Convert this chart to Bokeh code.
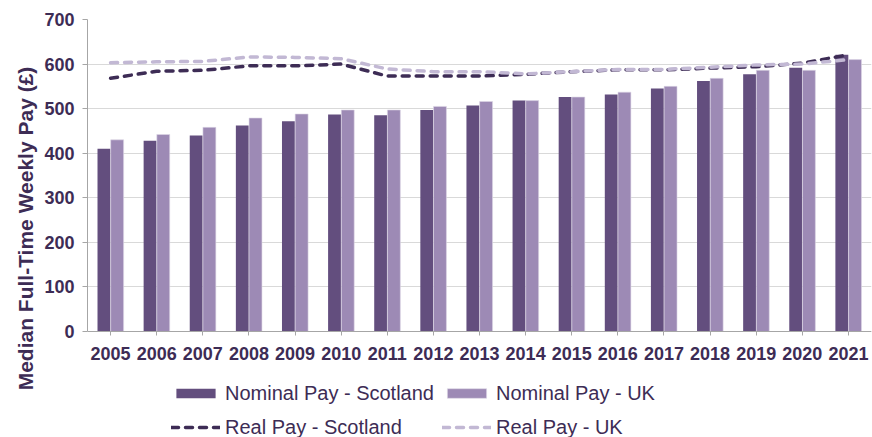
from bokeh.plotting import figure
from bokeh.models import Range1d, FixedTicker, Legend, LegendItem, Title
from bokeh.embed import file_html
from bokeh.resources import INLINE

years = [2005, 2006, 2007, 2008, 2009, 2010, 2011, 2012, 2013, 2014, 2015, 2016, 2017, 2018, 2019, 2020, 2021]
year_labels = [str(y) for y in years]
nominal_scotland = [410, 428, 440, 462, 472, 487, 485, 497, 507, 518, 526, 532, 545, 562, 577, 592, 621]
nominal_uk = [430, 442, 458, 479, 488, 497, 497, 505, 516, 518, 526, 537, 550, 568, 586, 586, 610]
real_scotland = [568, 584, 586, 596, 596, 600, 573, 573, 573, 577, 583, 587, 587, 591, 594, 602, 621]
real_uk = [603, 605, 606, 616, 615, 612, 589, 583, 583, 578, 583, 588, 588, 593, 598, 600, 610]
y_ticks = [0, 100, 200, 300, 400, 500, 600, 700]

TEXT = "#3d2c55"
C_NOM_SCO = "#634e7e"
C_NOM_UK = "#9d8ab5"
C_REAL_SCO = "#3d2c55"
C_REAL_UK = "#c2b8d4"
FONT = "Liberation Sans"

# frame spans the full lower area so the legend (inside the frame) is not clipped;
# value 0 sits at the x-axis, the area below it holds the year labels and legend
p = figure(width=872, height=437, output_backend="svg", toolbar_location=None,
           x_range=Range1d(2004.5, 2021.5), y_range=Range1d(-237.8, 700),
           min_border_left=87, min_border_right=1, min_border_top=19, min_border_bottom=0)
p.outline_line_color = None
p.background_fill_color = "white"

bw = 0.28
off = 0.143
xs_sco = [y - off for y in years]
xs_uk = [y + off for y in years]
r_ns = p.vbar(x=xs_sco, top=nominal_scotland, bottom=0, width=bw, fill_color=C_NOM_SCO, line_color=None)
r_nu = p.vbar(x=xs_uk, top=nominal_uk, bottom=0, width=bw, fill_color=C_NOM_UK, line_color="#ddd6e6", line_width=0.6)

r_rs = p.line(years, real_scotland, line_color=C_REAL_SCO, line_width=3.5, line_dash="7 7", line_cap="round")
r_ru = p.line(years, real_uk, line_color=C_REAL_UK, line_width=3.5, line_dash="7 7", line_cap="round")

# axes
p.xaxis.ticker = FixedTicker(ticks=years)
p.xaxis.major_label_overrides = {y: l for y, l in zip(years, year_labels)}
p.xaxis.fixed_location = 0
p.yaxis.ticker = FixedTicker(ticks=y_ticks)
p.yaxis.bounds = (0, 700)
for ax in (p.xaxis[0], p.yaxis[0]):
    ax.axis_line_color = "#a6a6a6"
    ax.major_tick_line_color = "#a6a6a6"
    ax.minor_tick_line_color = None
    ax.major_tick_in = 0
    ax.major_label_text_color = TEXT
    ax.major_label_text_font = FONT
    ax.major_label_text_font_style = "bold"
p.xaxis.major_tick_out = 4
p.yaxis.major_tick_out = 5
p.xaxis.major_label_text_font_size = "18px"
p.yaxis.major_label_text_font_size = "18px"
p.xaxis.major_label_standoff = 11
p.yaxis.major_label_standoff = 8

p.add_layout(Title(text="Median Full-Time Weekly Pay (£)", align="center", offset=63,
                   text_font=FONT, text_font_style="bold", text_font_size="21px",
                   text_color=TEXT), "left")

p.xgrid.grid_line_color = None
p.ygrid.grid_line_color = "#d9d9d9"
p.ygrid.grid_line_width = 1

def add_leg(label, rend, loc):
    lg = Legend(items=[LegendItem(label=label, renderers=[rend])], location=loc,
                orientation="horizontal", padding=0, margin=0, spacing=0,
                glyph_width=49, glyph_height=12, label_standoff=5, label_height=24,
                label_text_font=FONT, label_text_font_size="20px", label_text_color=TEXT,
                border_line_color=None, background_fill_alpha=0)
    p.add_layout(lg, "center")

add_leg("Nominal Pay - Scotland", r_ns, (84, 32))
add_leg("Nominal Pay - UK", r_nu, (355, 32))
add_leg("Real Pay - Scotland", r_rs, (84, -2))
add_leg("Real Pay - UK", r_ru, (355, -2))

open("out.html", "w").write(file_html(p, INLINE))
